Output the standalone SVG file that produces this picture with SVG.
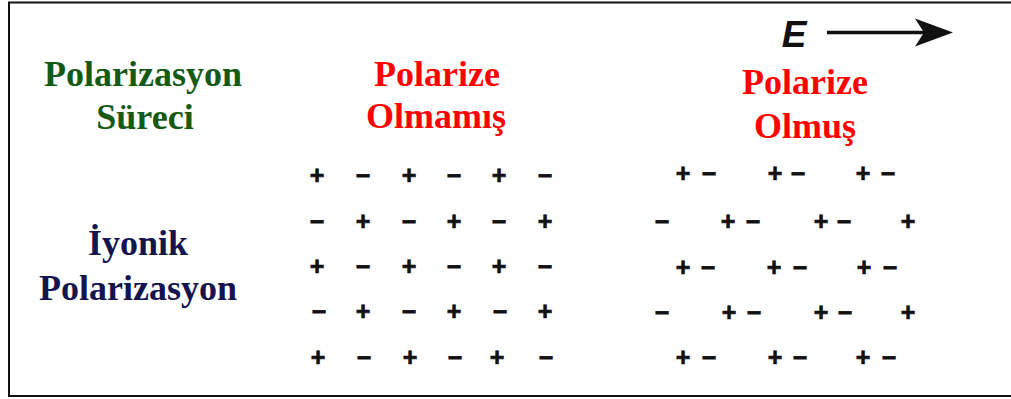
<svg xmlns="http://www.w3.org/2000/svg" width="1011" height="399" viewBox="0 0 1011 399">
<style>
.t{font-family:"Liberation Serif","Times New Roman",serif;font-weight:bold;font-size:36px;text-anchor:middle}
.g{fill:#145a14}
.n{fill:#14144f}
.r{fill:#ff0000}
.c{font-family:"Liberation Sans",Arial,sans-serif;font-weight:bold;font-size:25px;text-anchor:middle;fill:#111;stroke:#111;stroke-width:0.7}
</style>
<rect x="9" y="2.5" width="1010" height="393.5" fill="#fff" stroke="#111" stroke-width="2"/>
<g id="field">
<text x="794" y="47" style="font-family:'Liberation Sans',Arial,sans-serif;font-weight:bold;font-style:italic;font-size:37px;fill:#111;text-anchor:middle">E</text>
<line x1="827" y1="32.5" x2="930" y2="32.5" stroke="#111" stroke-width="3.5"/>
<polygon points="953,32.5 915,18.5 924,32.5 915,46.5" fill="#111"/>
</g>
<g id="label-surec">
<text class="t g" x="143" y="86">Polarizasyon</text>
<text class="t g" x="145" y="129">Süreci</text>
</g>
<g id="label-iyonik">
<text class="t n" x="138" y="255">İyonik</text>
<text class="t n" x="138" y="300">Polarizasyon</text>
</g>
<g id="label-olmamis">
<text class="t r" x="437" y="86">Polarize</text>
<text class="t r" x="436" y="128">Olmamış</text>
</g>
<g id="label-olmus">
<text class="t r" x="805" y="94">Polarize</text>
<text class="t r" x="805" y="138">Olmuş</text>
</g>
<g id="unpolarized" class="c">
<text x="317" y="183.8">+</text><text x="363" y="183.8">−</text><text x="409" y="183.8">+</text><text x="454" y="183.8">−</text><text x="499" y="183.8">+</text><text x="545" y="183.8">−</text>
<text x="317" y="229.8">−</text><text x="363" y="229.8">+</text><text x="409" y="229.8">−</text><text x="454" y="229.8">+</text><text x="499" y="229.8">−</text><text x="545" y="229.8">+</text>
<text x="317" y="274.8">+</text><text x="363" y="274.8">−</text><text x="409" y="274.8">+</text><text x="454" y="274.8">−</text><text x="499" y="274.8">+</text><text x="545" y="274.8">−</text>
<text x="319" y="319.8">−</text><text x="363" y="319.8">+</text><text x="409" y="319.8">−</text><text x="454" y="319.8">+</text><text x="500" y="319.8">−</text><text x="545" y="319.8">+</text>
<text x="318" y="365.8">+</text><text x="364" y="365.8">−</text><text x="410" y="365.8">+</text><text x="455" y="365.8">−</text><text x="497" y="365.8">+</text><text x="546" y="365.8">−</text>
</g>
<g id="polarized" class="c">
<text x="683" y="182.1">+</text><text x="709" y="182.1">−</text><text x="775" y="182.1">+</text><text x="798" y="182.1">−</text><text x="863" y="182.1">+</text><text x="888" y="182.1">−</text>
<text x="662" y="229.5">−</text><text x="728" y="229.5">+</text><text x="753" y="229.5">−</text><text x="821" y="229.5">+</text><text x="844" y="229.5">−</text><text x="908" y="229.5">+</text>
<text x="683" y="275.5">+</text><text x="708" y="275.5">−</text><text x="774" y="275.5">+</text><text x="800" y="275.5">−</text><text x="864" y="275.5">+</text><text x="890" y="275.5">−</text>
<text x="662" y="320.5">−</text><text x="729" y="320.5">+</text><text x="754" y="320.5">−</text><text x="821" y="320.5">+</text><text x="845" y="320.5">−</text><text x="908" y="320.5">+</text>
<text x="683" y="365.5">+</text><text x="709" y="365.5">−</text><text x="775" y="365.5">+</text><text x="800" y="365.5">−</text><text x="863" y="365.5">+</text><text x="889" y="365.5">−</text>
</g>
</svg>
